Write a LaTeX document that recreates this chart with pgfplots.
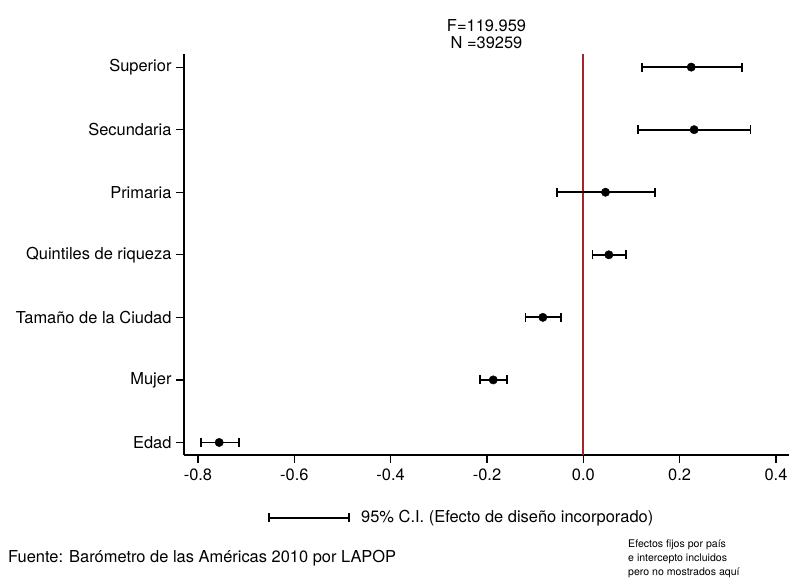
\documentclass[border=0pt]{standalone}
\usepackage{fontspec}
\setmainfont{TeX Gyre Heros}
\usepackage{pgfplots}
\pgfplotsset{compat=1.18}
\definecolor{refred}{RGB}{160,40,40}

\begin{document}
\begin{tikzpicture}[x=1bp,y=1bp]
\useasboundingbox (0,0) rectangle (789,579);

\begin{axis}[
    at={(184bp,124bp)},
    anchor=south west,
    scale only axis,
    width=605bp,
    height=401bp,
    xmin=-0.829, xmax=0.427,
    ymin=0.80, ymax=7.21,
    axis x line*=bottom,
    axis y line*=left,
    axis line style={line width=1.2bp,-},
    tick align=outside,
    major tick length=8bp,
    tick style={black,line width=1.2bp},
    xtick={-0.8,-0.6,-0.4,-0.2,0,0.2,0.4},
    xticklabels={-0.8,-0.6,-0.4,-0.2,0.0,0.2,0.4},
    ytick={1,2,3,4,5,6,7},
    yticklabels={Edad,Mujer,Tamaño de la Ciudad,Quintiles de riqueza,Primaria,Secundaria,Superior},
    tick label style={font=\fontsize{16.5}{19}\selectfont},
    xticklabel style={yshift=-2bp},
    yticklabel style={xshift=-1bp},
    clip=false,
]

% reference line at zero
\addplot[draw=refred, line width=2bp, mark=none] coordinates {(0,0.80) (0,7.21)};

% coefficients with 95% CI
\addplot[black, only marks, mark=*, mark size=4.2bp,
    error bars/.cd, x dir=both, x explicit,
    error mark=|,
    error bar style={line width=1.8bp, black},
    error mark options={line width=1.8bp, mark size=4.5bp, black}]
coordinates {
    (0.224,7)  += (0.105,0)  -= (0.103,0)
    (0.230,6)  += (0.117,0)  -= (0.116,0)
    (0.046,5)  += (0.103,0)  -= (0.101,0)
    (0.053,4)  += (0.035,0)  -= (0.034,0)
    (-0.084,3) += (0.038,0)  -= (0.036,0)
    (-0.187,2) += (0.029,0)  -= (0.028,0)
    (-0.756,1) += (0.041,0)  -= (0.038,0)
};

\node[anchor=south, align=center, inner sep=0pt,
      font=\fontsize{16.5}{17}\selectfont]
    at (rel axis cs:0.5,1) [yshift=5bp] {F=119.959\\N =39259};
\end{axis}

% legend
\draw[line width=1.8bp] (269,61) -- (349,61);
\draw[line width=1.8bp] (269,56.5) -- (269,65.5);
\draw[line width=1.8bp] (349,56.5) -- (349,65.5);
\node[anchor=west, inner sep=0pt, font=\fontsize{16.5}{19}\selectfont]
    at (361,61) {95\% C.I. (Efecto de diseño incorporado)};

% notes
\node[anchor=west, inner sep=0pt, font=\fontsize{16.5}{19}\selectfont]
    at (8,21) {Fuente: Barómetro de las Américas 2010 por LAPOP};
\node[anchor=north west, inner sep=0pt, align=left,
      font=\fontsize{10.6}{14}\selectfont]
    at (628,39) {Efectos fijos por país\\e intercepto incluidos\\pero no mostrados aquí};
\end{tikzpicture}
\end{document}
